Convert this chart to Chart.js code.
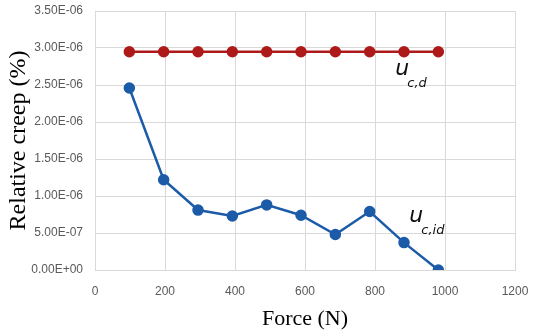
<!DOCTYPE html>
<html>
<head>
<meta charset="utf-8">
<script src="https://cdn.jsdelivr.net/npm/chart.js@4"></script>
<style>
  html, body { margin: 0; padding: 0; background: #fff; }
  #wrap { width: 534px; height: 336px; }
</style>
</head>
<body>
<div id="wrap"><canvas id="creepChart" width="534" height="336"></canvas></div>
<script>
'use strict';

// applied force (N), 10 load steps of 98.1 N
const forces = [98.1, 196.2, 294.3, 392.4, 490.5, 588.6, 686.7, 784.8, 882.9, 981];
// relative creep (%)
const ucd  = [2.95e-6, 2.95e-6, 2.95e-6, 2.95e-6, 2.95e-6, 2.95e-6, 2.95e-6, 2.95e-6, 2.95e-6, 2.95e-6];
const ucid = [2.46e-6, 1.22e-6, 0.81e-6, 0.73e-6, 0.88e-6, 0.74e-6, 0.48e-6, 0.79e-6, 0.37e-6, 0];

const xTicks = [0, 200, 400, 600, 800, 1000, 1200];

// series names written next to the lines
const seriesLabels = [
  { main: 'u', sub: 'c,d',  x: 858, y: 2.63e-6 },
  { main: 'u', sub: 'c,id', x: 898, y: 0.65e-6 }
];

const toPoints = function (ys) {
  return forces.map(function (f, i) { return { x: f, y: ys[i] }; });
};

// 3.50E-06 style numbers
const sciFormat = function (v) {
  const parts = Number(v).toExponential(2).split('e');
  let exp = parseInt(parts[1], 10);
  const sign = exp < 0 ? '-' : '+';
  exp = Math.abs(exp);
  return parts[0] + 'E' + sign + (exp < 10 ? '0' : '') + exp;
};

const labelPlugin = {
  id: 'seriesLabels',
  afterDatasetsDraw: function (chart) {
    const ctx = chart.ctx;
    const xs = chart.scales.x, ys = chart.scales.y;
    ctx.save();
    ctx.fillStyle = '#111';
    ctx.textBaseline = 'alphabetic';
    seriesLabels.forEach(function (l) {
      const px = xs.getPixelForValue(l.x);
      const py = ys.getPixelForValue(l.y);
      ctx.font = 'italic 22px "DejaVu Sans"';
      ctx.fillText(l.main, px, py);
      const w = ctx.measureText(l.main).width;
      ctx.font = 'italic 13px "DejaVu Sans"';
      ctx.fillText(l.sub, px + w - 2, py + 12);
    });
    ctx.restore();
  }
};

const ctx = document.getElementById('creepChart').getContext('2d');
const chart = new Chart(ctx, {
  type: 'scatter',
  data: {
    datasets: [
      {
        label: 'u c,d',
        data: toPoints(ucd),
        showLine: true,
        borderColor: '#AE1A1A',
        backgroundColor: '#AE1A1A',
        borderWidth: 2.5,
        pointRadius: 4.5,
        pointHoverRadius: 4.5
      },
      {
        label: 'u c,id',
        data: toPoints(ucid),
        showLine: true,
        borderColor: '#1C5BA8',
        backgroundColor: '#1C5BA8',
        borderWidth: 2.5,
        pointRadius: 4.5,
        pointHoverRadius: 4.5
      }
    ]
  },
  options: {
    responsive: false,
    animation: false,
    layout: { padding: 0 },
    plugins: {
      legend: { display: false },
      tooltip: { enabled: false }
    },
    scales: {
      x: {
        type: 'linear',
        min: 0,
        max: 1200,
        afterBuildTicks: function (scale) {
          scale.ticks = xTicks.map(function (v) { return { value: v }; });
        },
        grid: { color: '#d9d9d9', drawTicks: false, lineWidth: 1 },
        border: { color: '#d9d9d9' },
        ticks: {
          color: '#595959',
          font: { family: 'Liberation Sans', size: 12 },
          padding: 14,
          callback: function (v) { return String(v); }
        },
        title: {
          display: true,
          text: 'Force (N)',
          color: '#000',
          font: { family: 'Liberation Serif', size: 22 },
          padding: { top: 4 }
        },
        afterFit: function (scale) {
          scale.height = 66;
          scale.paddingRight = 19;
          scale.paddingLeft = 0;
        }
      },
      y: {
        min: 0,
        max: 3.5e-6,
        ticks: {
          stepSize: 5e-7,
          color: '#595959',
          font: { family: 'Liberation Sans', size: 12 },
          padding: 12,
          callback: function (v) { return sciFormat(v); }
        },
        grid: { color: '#d9d9d9', drawTicks: false, lineWidth: 1 },
        border: { color: '#d9d9d9' },
        title: {
          display: true,
          text: 'Relative creep (%)',
          color: '#000',
          font: { family: 'Liberation Serif', size: 24 },
          padding: { bottom: 0 }
        },
        afterFit: function (scale) {
          scale.width = 95;
          scale.paddingTop = 11;
          scale.paddingBottom = 0;
        }
      }
    }
  },
  plugins: [labelPlugin]
});
</script>
</body>
</html>
